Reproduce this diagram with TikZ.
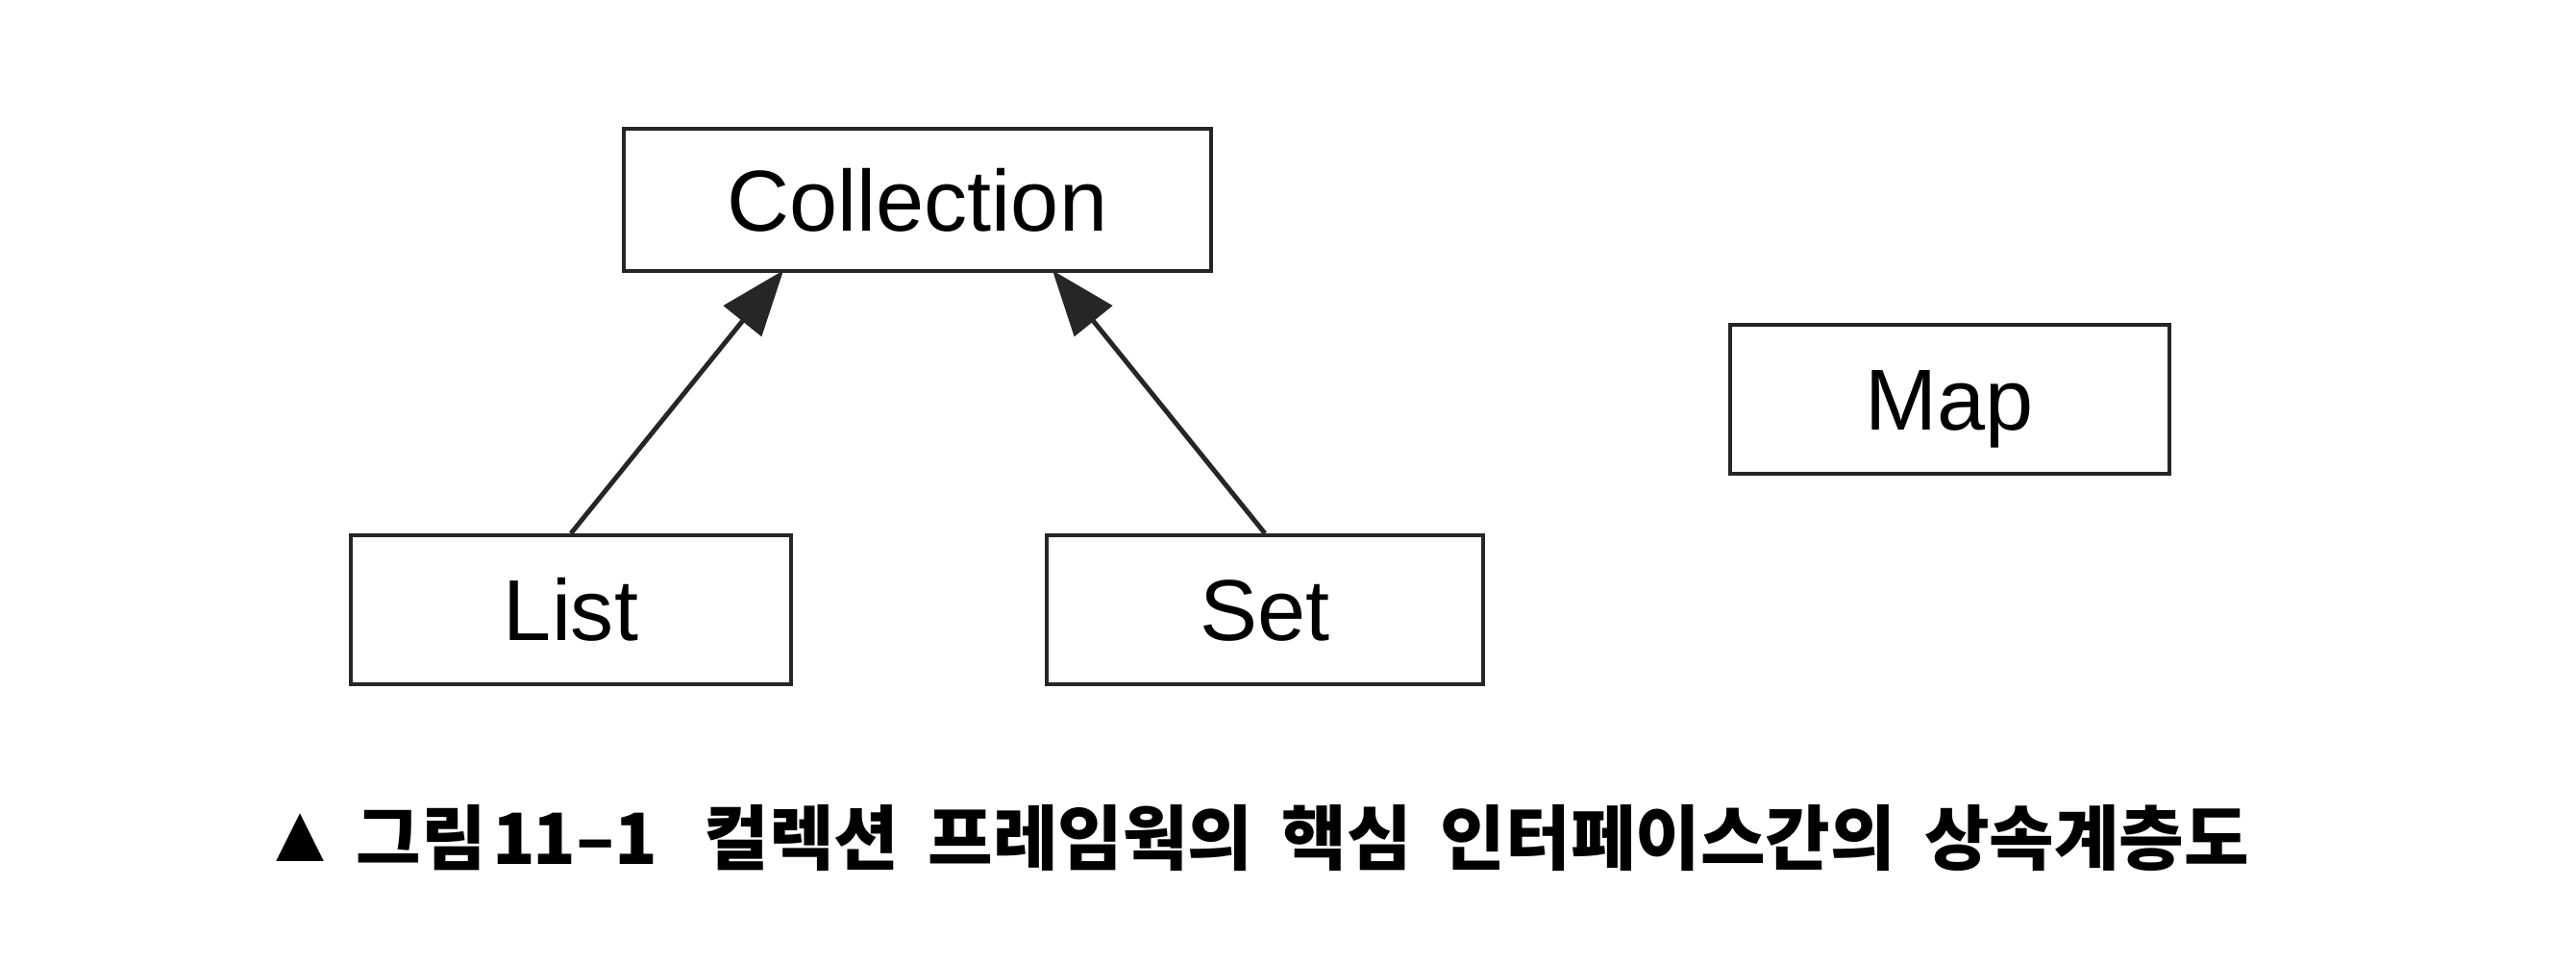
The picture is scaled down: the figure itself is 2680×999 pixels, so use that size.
\documentclass[tikz,border=0pt]{standalone}
\usepackage{fontspec}
\setmainfont{Liberation Sans}
\newfontfamily\kr{Noto Sans CJK KR}
\newfontfamily\sym{DejaVu Sans}
\usetikzlibrary{arrows.meta}
\tikzset{
  box/.style={draw=black!85, line width=1.1pt, rectangle, inner sep=0pt,
    minimum height=1.55cm, text height=0.644cm, text depth=0pt,
    font=\fontsize{25.6pt}{30pt}\selectfont, align=center},
  inherit/.style={draw=black!85, line width=1.4pt,
    -{Triangle[length=0.68cm,width=0.5cm]}, shorten >=-1pt},
  caption/.style={inner sep=0pt, font=\kr\bfseries\fontsize{20.9pt}{24pt}\selectfont}
}
\begin{document}
\begin{tikzpicture}[x=0.01cm, y=-0.01cm]
\useasboundingbox (0,0) rectangle (2680,999);
\node[box, minimum width=6.11cm, minimum height=1.48cm] (coll) at (954.5,208) {Collection};
\node[box, minimum width=4.57cm] (map) at (2028.5,415.5) {Map};
\node[box, minimum width=4.58cm] (list) at (594,634.5) {List};
\node[box, minimum width=4.54cm] (set) at (1316,634.5) {Set};
\draw[inherit] (list.north) -- ([xshift=-1.415cm]coll.south);
\draw[inherit] (set.north) -- ([xshift=1.425cm]coll.south);
\node[inner sep=0pt, font=\sym\fontsize{18.5pt}{20pt}\selectfont] (tri) at (313,872) {▲};
\node[caption, anchor=base west] (cap) at (370,899)
  {그림\hspace{0.07cm}1\kern-0.03cm1–1\hspace{0.48cm}컬렉션\hspace{0.3cm}프레임웍의\hspace{0.3cm}핵심\hspace{0.3cm}인터페이스간의\hspace{0.3cm}상속계층도};
\end{tikzpicture}
\end{document}
